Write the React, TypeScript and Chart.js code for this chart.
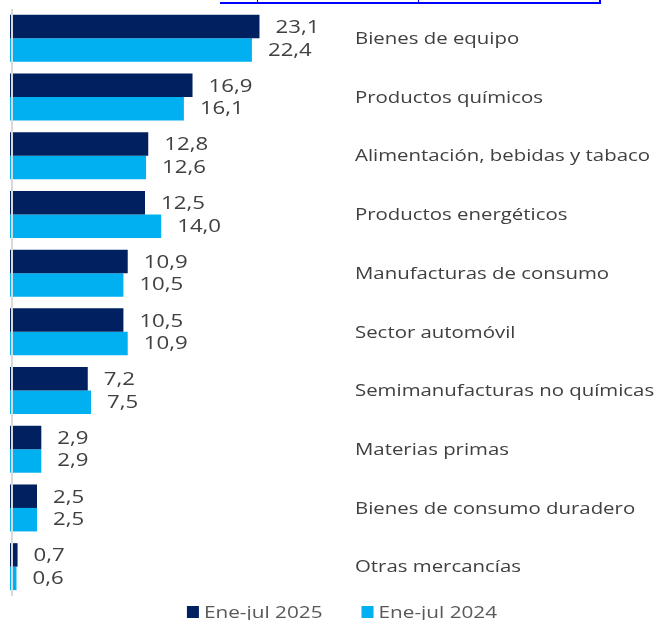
import React, { useEffect, useRef } from "react";
import { Chart, registerables } from "chart.js";

Chart.register(...registerables);

const categories = [
  "Bienes de equipo",
  "Productos químicos",
  "Alimentación, bebidas y tabaco",
  "Productos energéticos",
  "Manufacturas de consumo",
  "Sector automóvil",
  "Semimanufacturas no químicas",
  "Materias primas",
  "Bienes de consumo duradero",
  "Otras mercancías",
];
const values2025 = [23.1, 16.9, 12.8, 12.5, 10.9, 10.5, 7.2, 2.9, 2.5, 0.7];
const values2024 = [22.4, 16.1, 12.6, 14.0, 10.5, 10.9, 7.5, 2.9, 2.5, 0.6];
const seriesNames = ["Ene-jul 2025", "Ene-jul 2024"];
const seriesColors = ["#002060", "#00B0F0"];

const FONT = '"Open Sans", "DejaVu Sans", sans-serif';

function stretchText(ctx: CanvasRenderingContext2D, text: string, x: number, y: number, sx: number) {
  ctx.save();
  ctx.translate(x, y);
  ctx.scale(sx, 1);
  ctx.fillText(text, 0, 0);
  ctx.restore();
}

const labelsPlugin = {
  id: "customLabels",
  afterDraw(chart: any) {
    const ctx: CanvasRenderingContext2D = chart.ctx;
    const area = chart.chartArea;
    // axis line
    ctx.save();
    ctx.strokeStyle = "#D9D9D9";
    ctx.lineWidth = 2;
    ctx.beginPath();
    ctx.moveTo(area.left + 2, area.top);
    ctx.lineTo(area.left + 2, area.bottom);
    ctx.stroke();
    ctx.restore();

    // value labels
    ctx.save();
    ctx.fillStyle = "#404040";
    ctx.font = `17.5px ${FONT}`;
    ctx.textBaseline = "middle";
    ctx.textAlign = "left";
    chart.data.datasets.forEach((ds: any, di: number) => {
      const meta = chart.getDatasetMeta(di);
      meta.data.forEach((el: any, i: number) => {
        const v = ds.data[i] as number;
        const txt = v.toFixed(1).replace(".", ",");
        stretchText(ctx, txt, el.x + 16, el.y + (di === 0 ? 1.5 : 0.5), 1.27);
      });
    });
    ctx.restore();

    // category labels
    ctx.save();
    ctx.fillStyle = "#404040";
    ctx.font = `16.5px ${FONT}`;
    ctx.textBaseline = "middle";
    ctx.textAlign = "left";
    const yScale = chart.scales.y;
    (chart.data.labels as string[]).forEach((lab, i) => {
      const y = yScale.getPixelForValue(i);
      stretchText(ctx, lab, area.right + 21, y + 1, 1.235);
    });
    ctx.restore();

    // legend
    ctx.save();
    ctx.font = `17px ${FONT}`;
    ctx.textBaseline = "middle";
    ctx.textAlign = "left";
    const sx = 1.22;
    const box = 12;
    const gapBoxText = 5;
    const gapItems = 39;
    const widths = chart.data.datasets.map((ds: any) => ctx.measureText(ds.label).width * sx);
    const total = widths.reduce((a: number, w: number) => a + box + gapBoxText + w, 0) + gapItems * (widths.length - 1);
    let x = 342 - total / 2;
    const ly = 612;
    chart.data.datasets.forEach((ds: any, di: number) => {
      ctx.fillStyle = ds.backgroundColor;
      ctx.fillRect(x, ly - box / 2, box, box);
      ctx.fillStyle = "#595959";
      stretchText(ctx, ds.label, x + box + gapBoxText, ly + 1, sx);
      x += box + gapBoxText + widths[di] + gapItems;
    });
    ctx.restore();
  },
};

export default function App() {
  const ref = useRef<HTMLCanvasElement | null>(null);
  useEffect(() => {
    if (!ref.current) return;
    const chart = new Chart(ref.current, {
      type: "bar",
      data: {
        labels: categories,
        datasets: [
          { label: seriesNames[0], data: values2025, backgroundColor: seriesColors[0], borderWidth: 0 },
          { label: seriesNames[1], data: values2024, backgroundColor: seriesColors[1], borderWidth: 0 },
        ],
      },
      options: {
        indexAxis: "y",
        responsive: false,
        animation: false,
        devicePixelRatio: 1,
        layout: { padding: { left: 10, right: 322, top: 9, bottom: 24 } },
        datasets: { bar: { categoryPercentage: 0.8, barPercentage: 1.0 } },
        scales: {
          x: { display: false, min: 0, max: 30 },
          y: { display: false },
        },
        plugins: {
          legend: { display: false },
          tooltip: { enabled: false },
          title: { display: false },
        },
      } as any,
      plugins: [labelsPlugin],
    });
    return () => chart.destroy();
  }, []);

  return (
    <div style={{ position: "fixed", left: 0, top: 0, width: 656, height: 620, background: "#fff" }}>
      <div style={{ position: "absolute", left: 220, top: 0, width: 380, height: 2, borderBottom: "2px solid #0000FF" }} />
      <div style={{ position: "absolute", left: 257, top: 0, width: 1, height: 3, background: "#0000FF" }} />
      <div style={{ position: "absolute", left: 418, top: 0, width: 1, height: 3, background: "#0000FF" }} />
      <div style={{ position: "absolute", left: 599, top: 0, width: 2, height: 4, background: "#0000FF" }} />
      <canvas ref={ref} width={656} height={620} style={{ display: "block", width: 656, height: 620 }} />
    </div>
  );
}
